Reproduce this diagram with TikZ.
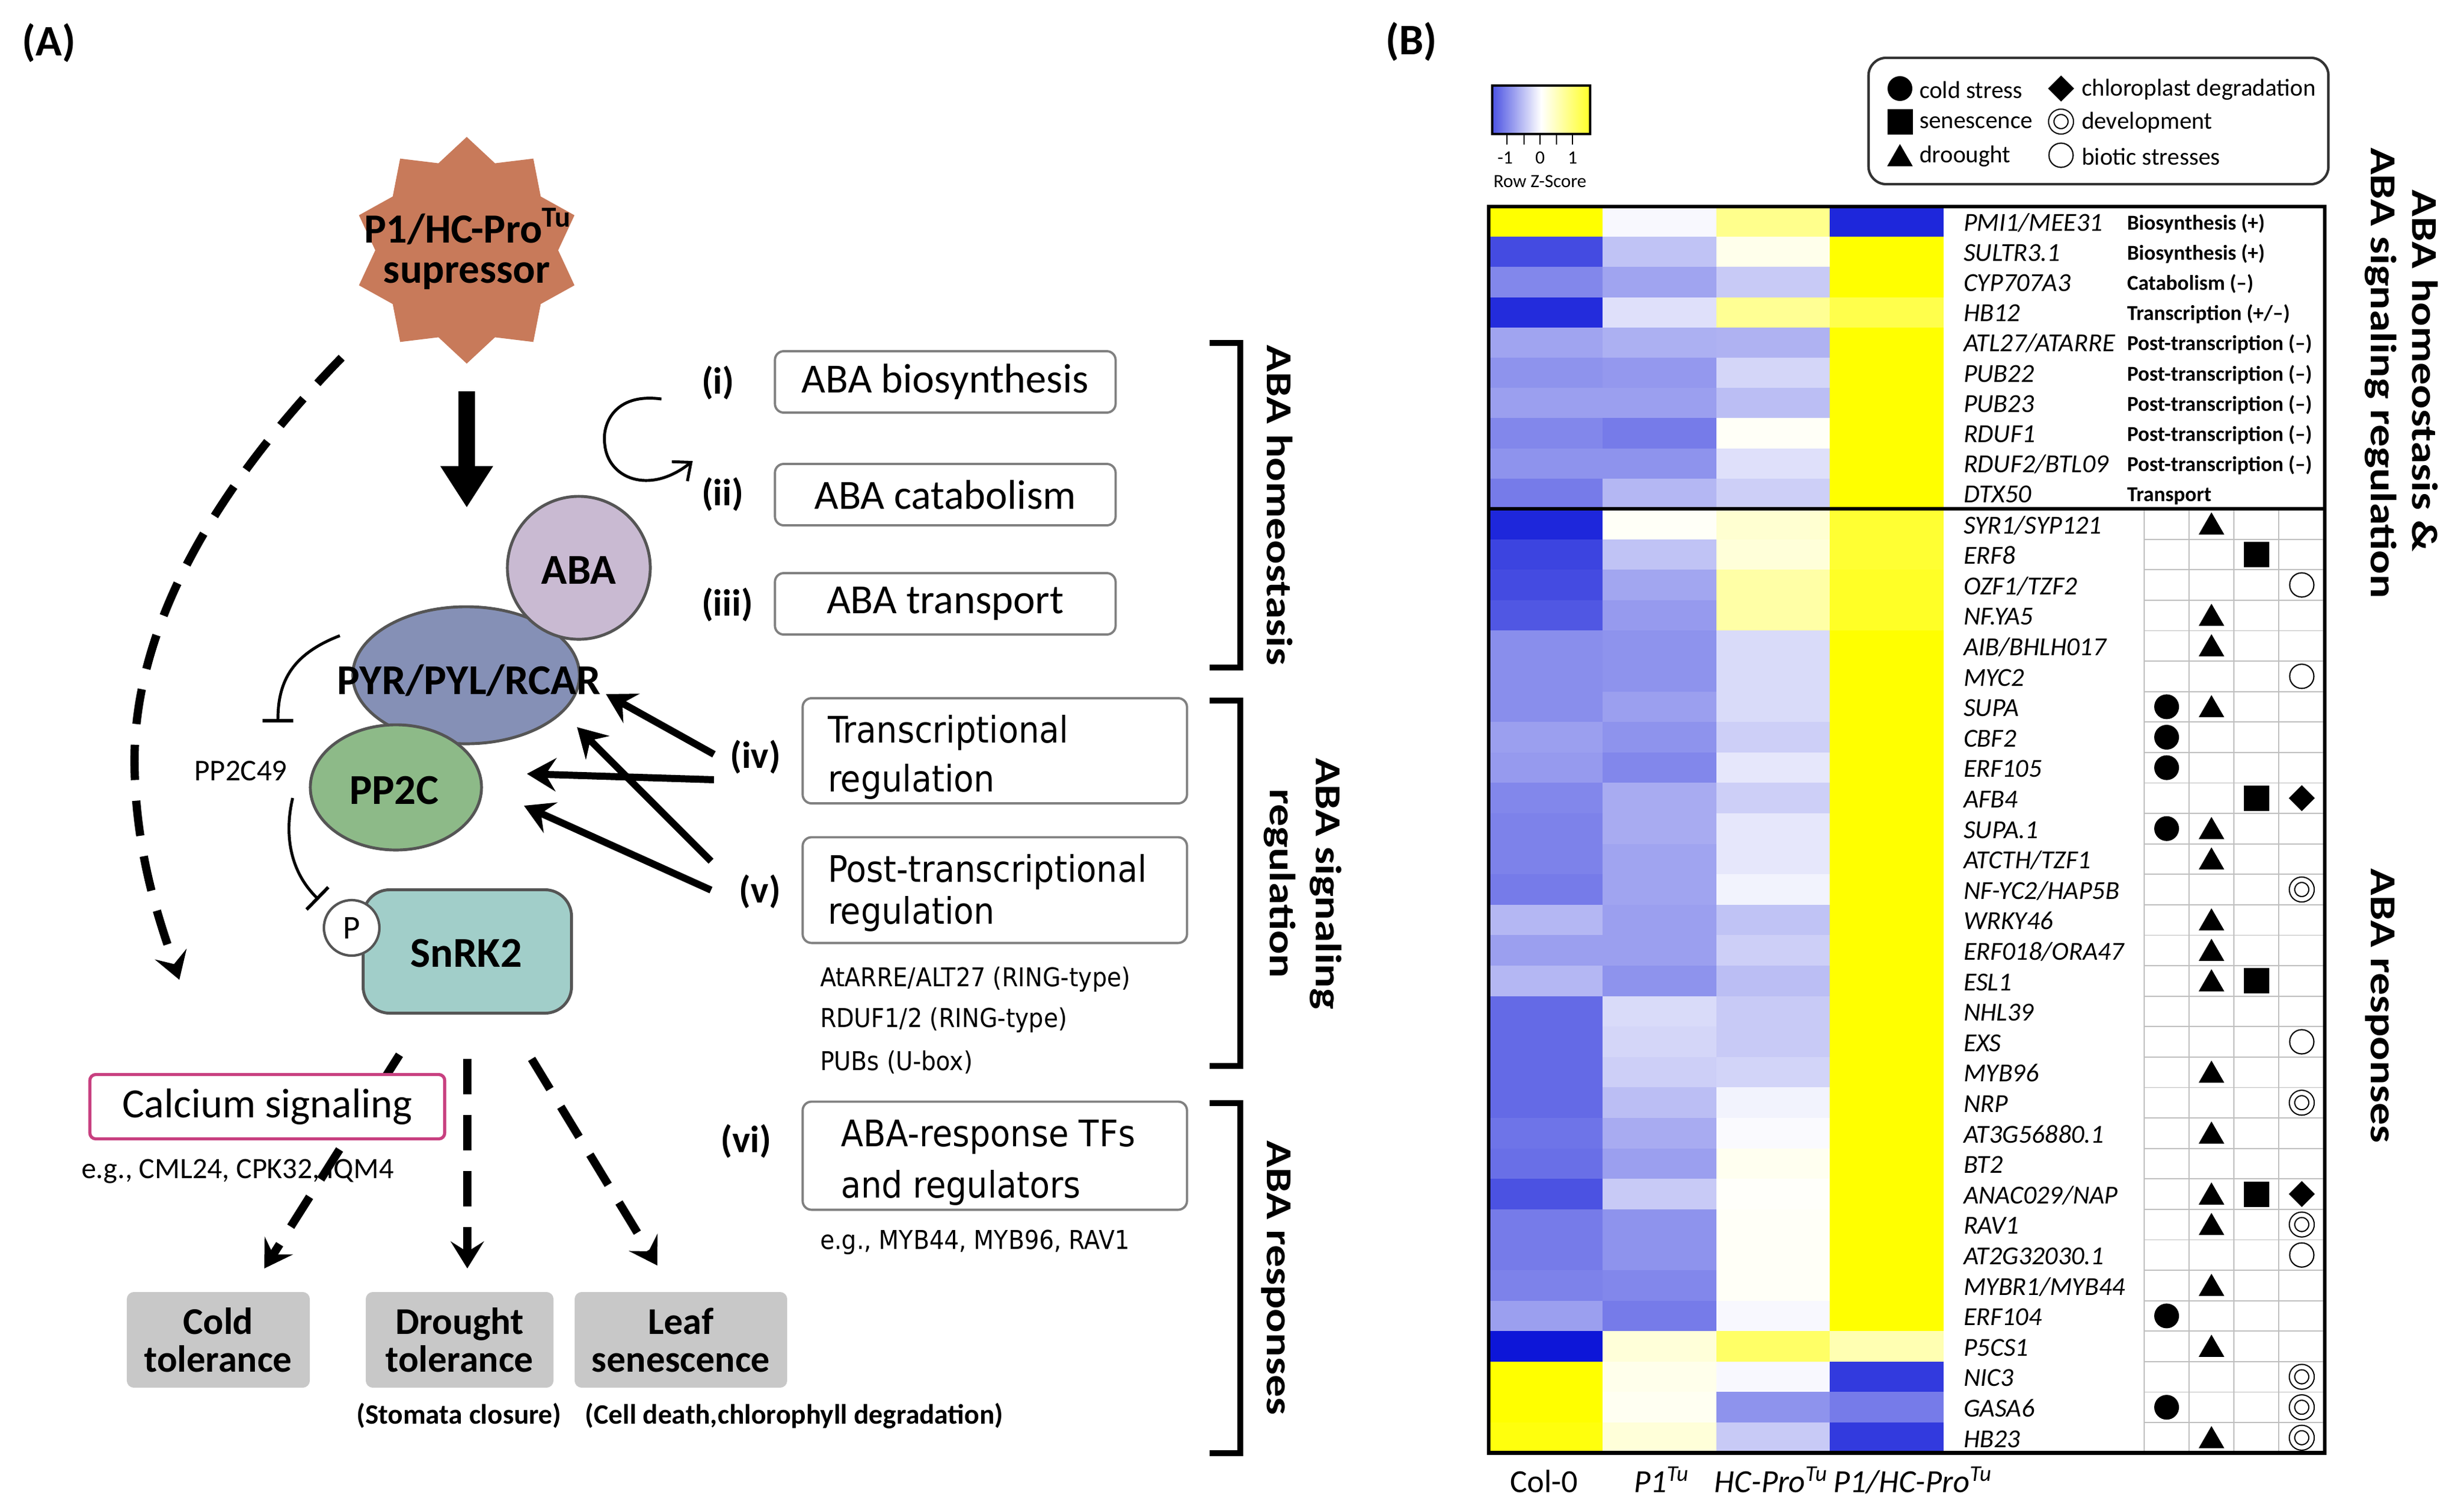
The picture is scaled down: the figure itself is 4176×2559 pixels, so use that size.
\documentclass[tikz,border=0pt]{standalone}
\usepackage{fontspec}
\usepackage{graphicx}
\setmainfont{Carlito}
\newfontfamily\dv[FakeStretch=0.9]{DejaVu Sans}
\usetikzlibrary{arrows.meta,shapes.geometric}
\definecolor{starc}{RGB}{200,122,90}
\definecolor{abac}{RGB}{201,186,210}
\definecolor{pyrc}{RGB}{133,144,182}
\definecolor{ppc}{RGB}{141,186,136}
\definecolor{snc}{RGB}{161,206,201}
\definecolor{olc}{RGB}{85,85,85}
\definecolor{boxc}{RGB}{128,128,128}
\definecolor{cacol}{RGB}{200,64,128}
\definecolor{grayb}{RGB}{200,200,200}
\definecolor{hb}{RGB}{5,15,215}
\definecolor{hy}{RGB}{255,255,0}
\newcommand\fsz[2]{\fontsize{#1pt}{#2pt}\selectfont}
\begin{document}
\begin{tikzpicture}[x=0.01cm,y=-0.01cm,
 every node/.style={inner sep=0pt,outer sep=0pt},
 plbl/.style={font=\fsz{21}{25}\bfseries},
 bigb/.style={font=\fsz{20.5}{24}\bfseries},
 startxt/.style={font=\fsz{20}{17.1}\bfseries,anchor=base},
 shp/.style={draw=olc,line width=1.4pt},
 rom/.style={font=\fsz{18.2}{22}\bfseries},
 abox/.style={draw=boxc,line width=1.1pt,rounded corners=0.15cm,minimum width=5.77cm,minimum height=1.04cm,font=\fsz{20}{24}},
 bbox/.style={draw=boxc,line width=1.1pt,rounded corners=0.15cm,minimum width=6.51cm},
 vtxt/.style={font=\dv\fsz{17.6}{21},anchor=base west},
 vsm/.style={font=\dv\fsz{12.5}{15},anchor=base west},
 gbox/.style={fill=grayb,rounded corners=0.12cm,minimum height=1.62cm,align=center,font=\fsz{18.2}{18.2}\bfseries},
 gsub/.style={font=\fsz{13.5}{16}\bfseries,anchor=base},
 rot/.style={font=\fsz{17.6}{20}\bfseries,rotate=-90,anchor=base},
 thk/.style={line width=3.4pt,-{Stealth[length=14pt,width=16pt,inset=5pt]}},
 dsh/.style={line width=4pt,dash pattern=on 17pt off 10pt,-{Stealth[length=13pt,width=16pt,inset=5pt]}},
 inh/.style={line width=1.4pt,-{Bar[width=15pt,line width=1.6pt]}},
 brk/.style={line width=2.8pt},
 gene/.style={font=\fsz{12.5}{14}\itshape,anchor=base west},
 catl/.style={font=\fsz{10.2}{12}\bfseries,anchor=base west},
 coll/.style={font=\fsz{15.5}{18},anchor=base},
 legt/.style={font=\fsz{11.7}{14},anchor=west},
 keyt/.style={font=\fsz{9}{11}},
 mkc/.style={circle,fill=black,minimum size=0.42cm},
 mkt/.style={regular polygon,regular polygon sides=3,fill=black,minimum size=0.5cm},
 mks/.style={rectangle,fill=black,minimum size=0.43cm},
 mkd/.style={diamond,fill=black,minimum width=0.44cm,minimum height=0.44cm},
 mko/.style={circle,draw=black,line width=0.6pt,minimum size=0.41cm},
 mkoo/.style={circle,draw=black,line width=0.6pt,double=white,double distance=0.07cm,minimum size=0.33cm},
 grd/.style={draw=black!25,line width=0.5pt}
]
\useasboundingbox (0,0) rectangle (4176,2559);
\fill[white] (0,0) rectangle (4176,2559);

%================ PANEL A =================
\node[plbl] (lA) at (83,73) {(A)};

% star
\fill[starc] plot[samples at={0,...,19}] ({791+(mod(\x,2)==0?192:155)*cos(90+18*\x)},{424-(mod(\x,2)==0?192:155)*sin(90+18*\x)}) -- cycle;
\coordinate (star) at (791,424);
\node[startxt] (startext1) at (793,411) {P1/HC-Pro\textsuperscript{Tu}};
\node[startxt] (startext2) at (791,479) {supressor};

% main arrow
\coordinate (ma1) at (791,663);
\coordinate (ma2) at (791,860);
\draw[line width=7.7pt,-{Triangle[length=20pt,width=24pt]}] (ma1) -- (ma2);

% long dashed curve
\coordinate (dc1) at (579,606);
\coordinate (dc2) at (228,1296);
\coordinate (dc3) at (304,1660);
\draw[dsh] (dc1) .. controls (380,810) and (225,1050) .. (dc2) .. controls (230,1450) and (272,1565) .. (dc3);

% receptor complex
\node[ellipse,shp,fill=pyrc,minimum width=3.84cm,minimum height=2.32cm] (pyr) at (790,1144) {};
\node[circle,shp,fill=abac,minimum size=2.42cm] (aba) at (981,962) {};
\node[ellipse,shp,fill=ppc,minimum width=2.9cm,minimum height=2.12cm] (pp2c) at (671,1334) {};
\node[bigb] (abat) at (981,966) {ABA};
\node[bigb] (pyrt) at (795,1153) {PYR/PYL/RCAR};
\node[bigb] (pp2ct) at (668,1339) {PP2C};
\node[rectangle,rounded corners=0.45cm,shp,fill=snc,minimum width=3.53cm,minimum height=2.09cm] (snrk) at (792,1612) {};
\node[bigb] (snrkt) at (790,1615) {SnRK2};
\node[circle,draw=olc,line width=1.2pt,fill=white,minimum size=0.94cm,font=\fsz{16}{19}] (pcirc) at (596,1572) {P};

% inhibitions
\node[font=\fsz{14.5}{17}] (pp49) at (408,1306) {PP2C49};
\coordinate (i1s) at (576,1077);
\coordinate (i1e) at (471,1224);
\draw[inh] (i1s) .. controls (490,1110) and (471,1160) .. (i1e);
\coordinate (i2s) at (496,1352);
\coordinate (i2e) at (540,1524);
\draw[inh] (i2s) .. controls (480,1420) and (495,1480) .. (i2e);

% circular arrow
\coordinate (ca1) at (1121,676);
\coordinate (cam) at (1025,753);
\coordinate (ca2) at (1174,781);
\draw[line width=1.4pt,-{Straight Barb[length=7pt,width=12pt]}] (ca1) .. controls (1040,665) and (1020,720) .. (cam) .. controls (1030,810) and (1100,840) .. (ca2);

% roman numerals
\node[rom,anchor=west] (r1) at (1189,649) {(i)};
\node[rom,anchor=west] (r2) at (1189,838) {(ii)};
\node[rom,anchor=west] (r3) at (1189,1025) {(iii)};
\node[rom,anchor=east] (r4) at (1323,1283) {(iv)};
\node[rom,anchor=east] (r5) at (1323,1511) {(v)};
\node[rom,anchor=east] (r6) at (1307,1934) {(vi)};

% arrows from (iv)/(v)
\coordinate (a1s) at (1210,1278); \coordinate (a1e) at (1027,1176);
\coordinate (a2s) at (1210,1321); \coordinate (a2e) at (893,1311);
\coordinate (a3s) at (1205,1459); \coordinate (a3e) at (978,1232);
\coordinate (a4s) at (1205,1508); \coordinate (a4e) at (888,1365);
\draw[thk] (a1s) -- (a1e);
\draw[thk] (a2s) -- (a2e);
\draw[thk] (a3s) -- (a3e);
\draw[thk] (a4s) -- (a4e);

% boxes
\node[abox] (b1) at (1602,647) {ABA biosynthesis};
\node[abox] (b2) at (1602,838) {ABA catabolism};
\node[abox] (b3) at (1602,1023) {ABA transport};
\node[bbox,minimum height=1.78cm] (b4) at (1686,1272) {};
\node[bbox,minimum height=1.79cm] (b5) at (1686,1508) {};
\node[bbox,minimum height=1.83cm] (b6) at (1686,1958) {};
\node[vtxt] (b4a) at (1403,1258) {Transcriptional};
\node[vtxt] (b4b) at (1403,1341) {regulation};
\node[vtxt] (b5a) at (1403,1494) {Post-transcriptional};
\node[vtxt] (b5b) at (1403,1565) {regulation};
\node[vtxt] (b6a) at (1425,1942) {ABA-response TFs};
\node[vtxt] (b6b) at (1425,2029) {and regulators};
\node[vsm] (s1) at (1390,1671) {AtARRE/ALT27 (RING-type)};
\node[vsm] (s2) at (1390,1740) {RDUF1/2 (RING-type)};
\node[vsm] (s3) at (1390,1813) {PUBs (U-box)};
\node[vsm] (s4) at (1390,2116) {e.g., MYB44, MYB96, RAV1};

% brackets
\coordinate (k1a) at (2050,581); \coordinate (k1b) at (2102,581); \coordinate (k1c) at (2102,1131); \coordinate (k1d) at (2050,1131);
\coordinate (k2a) at (2050,1187); \coordinate (k2b) at (2102,1187); \coordinate (k2c) at (2102,1806); \coordinate (k2d) at (2050,1806);
\coordinate (k3a) at (2050,1869); \coordinate (k3b) at (2102,1869); \coordinate (k3c) at (2102,2462); \coordinate (k3d) at (2050,2462);
\draw[brk] (k1a) -- (k1b) -- (k1c) -- (k1d);
\draw[brk] (k2a) -- (k2b) -- (k2c) -- (k2d);
\draw[brk] (k3a) -- (k3b) -- (k3c) -- (k3d);
\node[rot] (ra1) at (2147,856) {\scalebox{1.22}[1]{ABA homeostasis}};
\node[rot] (ra2) at (2230,1497) {\scalebox{1.22}[1]{ABA signaling}};
\node[rot] (ra3) at (2152,1497) {\scalebox{1.22}[1]{regulation}};
\node[rot] (ra4) at (2147,2165) {\scalebox{1.22}[1]{ABA responses}};

% bottom of panel A
\node[font=\fsz{14.2}{17},anchor=west] (eg) at (138,1985) {e.g., CML24, CPK32, IQM4};
\coordinate (d1s) at (677,1787); \coordinate (d1e) at (448,2149);
\coordinate (d2s) at (792,1794); \coordinate (d2e) at (792,2149);
\coordinate (d3s) at (901,1794); \coordinate (d3e) at (1114,2144);
\draw[dsh] (d1s) -- (d1e);
\draw[dsh] (d2s) -- (d2e);
\draw[dsh] (d3s) -- (d3e);
\node[rectangle,rounded corners=0.1cm,draw=cacol,line width=1.5pt,fill=white,minimum width=6.01cm,minimum height=1.09cm,font=\fsz{20}{24}] (cabox) at (453,1875) {Calcium signaling};
\node[gbox,minimum width=3.1cm] (cold) at (370,2270) {Cold\\tolerance};
\node[gbox,minimum width=3.18cm] (drought) at (779,2270) {Drought\\tolerance};
\node[gbox,minimum width=3.6cm] (leaf) at (1154,2270) {Leaf\\senescence};
\node[gsub] (stom) at (778,2412) {(Stomata closure)};
\node[gsub] (cell) at (1346,2412) {(Cell death,chlorophyll degradation)};

%================ PANEL B =================
\node[plbl] (lB) at (2392,71) {(B)};

% colour key
\shade[left color=hb!72!white,right color=hy!85!white,middle color=white] (2529,145) rectangle (2695,227);
\draw[line width=1.1pt] (2529,145) rectangle (2695,227);
\foreach \tx in {2554,2583,2610,2638,2665}{\draw[line width=0.8pt] (\tx,227) -- (\tx,245);}
\node[keyt] (km1) at (2551,267) {-1};
\node[keyt] (k0) at (2610,267) {0};
\node[keyt] (kp1) at (2665,267) {1};
\node[keyt] (kt) at (2610,307) {Row Z-Score};

% legend
\node[draw=black!80,line width=1.2pt,rounded corners=0.3cm,minimum width=7.79cm,minimum height=2.14cm] (leg) at (3556.5,205) {};
\node[mkc] (lg1) at (3220,150) {};
\node[mks] (lg2) at (3220,206) {};
\node[mkt] (lg3) at (3220,269) {};
\node[mkd] (lg4) at (3493,150) {};
\node[mkoo] (lg5) at (3493,206) {};
\node[mko] (lg6) at (3493,263) {};
\node[legt] (lt1) at (3253,152) {cold stress};
\node[legt] (lt2) at (3253,208) {senescence};
\node[legt] (lt3) at (3253,265) {droought};
\node[legt] (lt4) at (3528,152) {chloroplast degradation};
\node[legt] (lt5) at (3528,208) {development};
\node[legt] (lt6) at (3528,265) {biotic stresses};

% heatmap top section
\foreach \r/\ca/\cb/\cc/\cd/\g/\ct in {
 0/{hy}/{hb!3!white}/{hy!45!white}/{hb!90!white}/{PMI1/MEE31}/{Biosynthesis (+)},
 1/{hb!75!white}/{hb!25!white}/{hy!8!white}/{hy}/{SULTR3.1}/{Biosynthesis (+)},
 2/{hb!50!white}/{hb!38!white}/{hb!22!white}/{hy}/{CYP707A3}/{Catabolism (–)},
 3/{hb!88!white}/{hb!13!white}/{hy!42!white}/{hy!70!white}/{HB12}/{Transcription (+/–)},
 4/{hb!38!white}/{hb!33!white}/{hb!32!white}/{hy}/{ATL27/ATARRE}/{Post-transcription (–)},
 5/{hb!45!white}/{hb!43!white}/{hb!17!white}/{hy}/{PUB22}/{Post-transcription (–)},
 6/{hb!40!white}/{hb!40!white}/{hb!27!white}/{hy}/{PUB23}/{Post-transcription (–)},
 7/{hb!50!white}/{hb!55!white}/{hy!3!white}/{hy}/{RDUF1}/{Post-transcription (–)},
 8/{hb!45!white}/{hb!45!white}/{hb!13!white}/{hy}/{RDUF2/BTL09}/{Post-transcription (–)},
 9/{hb!55!white}/{hb!30!white}/{hb!20!white}/{hy}/{DTX50}/{Transport}}{
 \fill[fill=\ca] (2523,{350+51.2*\r}) rectangle ++(193.5,52);
 \fill[fill=\cb] (2715.75,{350+51.2*\r}) rectangle ++(193.5,52);
 \fill[fill=\cc] (2908.5,{350+51.2*\r}) rectangle ++(193.5,52);
 \fill[fill=\cd] (3101.25,{350+51.2*\r}) rectangle ++(192.75,52);
 \node[gene] (gT\r) at (3328,{350+51.2*\r+41}) {\g};
 \node[catl] (cT\r) at (3605,{350+51.2*\r+39}) {\ct};
}

% heatmap bottom section
\foreach \r/\ca/\cb/\cc/\cd/\g in {
 0/{hb!90!white}/{hy!3!white}/{hy!18!white}/{hy!80!white}/{SYR1/SYP121},
 1/{hb!78!white}/{hb!25!white}/{hy!15!white}/{hy!80!white}/{ERF8},
 2/{hb!75!white}/{hb!37!white}/{hy!35!white}/{hy!85!white}/{OZF1/TZF2},
 3/{hb!70!white}/{hb!42!white}/{hy!35!white}/{hy!85!white}/{NF.YA5},
 4/{hb!47!white}/{hb!45!white}/{hb!15!white}/{hy}/{AIB/BHLH017},
 5/{hb!47!white}/{hb!45!white}/{hb!15!white}/{hy}/{MYC2},
 6/{hb!47!white}/{hb!40!white}/{hb!15!white}/{hy}/{SUPA},
 7/{hb!40!white}/{hb!45!white}/{hb!20!white}/{hy}/{CBF2},
 8/{hb!42!white}/{hb!50!white}/{hb!10!white}/{hy}/{ERF105},
 9/{hb!50!white}/{hb!35!white}/{hb!20!white}/{hy}/{AFB4},
 10/{hb!52!white}/{hb!35!white}/{hb!10!white}/{hy}/{SUPA.1},
 11/{hb!52!white}/{hb!38!white}/{hb!10!white}/{hy}/{ATCTH/TZF1},
 12/{hb!55!white}/{hb!38!white}/{hb!5!white}/{hy}/{NF-YC2/HAP5B},
 13/{hb!30!white}/{hb!40!white}/{hb!25!white}/{hy}/{WRKY46},
 14/{hb!40!white}/{hb!40!white}/{hb!20!white}/{hy}/{ERF018/ORA47},
 15/{hb!30!white}/{hb!45!white}/{hb!27!white}/{hy}/{ESL1},
 16/{hb!62!white}/{hb!15!white}/{hb!22!white}/{hy}/{NHL39},
 17/{hb!62!white}/{hb!17!white}/{hb!22!white}/{hy}/{EXS},
 18/{hb!62!white}/{hb!20!white}/{hb!18!white}/{hy}/{MYB96},
 19/{hb!62!white}/{hb!27!white}/{hb!5!white}/{hy}/{NRP},
 20/{hb!58!white}/{hb!35!white}/{hb!2!white}/{hy}/{AT3G56880.1},
 21/{hb!60!white}/{hb!40!white}/{hy!6!white}/{hy}/{BT2},
 22/{hb!72!white}/{hb!22!white}/{hy!2!white}/{hy}/{ANAC029/NAP},
 23/{hb!55!white}/{hb!45!white}/{hy!3!white}/{hy}/{RAV1},
 24/{hb!55!white}/{hb!45!white}/{hy!3!white}/{hy}/{AT2G32030.1},
 25/{hb!52!white}/{hb!50!white}/{hy!3!white}/{hy}/{MYBR1/MYB44},
 26/{hb!40!white}/{hb!55!white}/{hb!3!white}/{hy}/{ERF104},
 27/{hb!97!white}/{hy!15!white}/{hy!60!white}/{hy!30!white}/{P5CS1},
 28/{hy}/{hy!8!white}/{hb!3!white}/{hb!82!white}/{NIC3},
 29/{hy}/{hy!5!white}/{hb!45!white}/{hb!55!white}/{GASA6},
 30/{hy!95!white}/{hy!15!white}/{hb!22!white}/{hb!82!white}/{HB23}}{
 \fill[fill=\ca] (2523,{862+51.6*\r}) rectangle ++(193.5,52.4);
 \fill[fill=\cb] (2715.75,{862+51.6*\r}) rectangle ++(193.5,52.4);
 \fill[fill=\cc] (2908.5,{862+51.6*\r}) rectangle ++(193.5,52.4);
 \fill[fill=\cd] (3101.25,{862+51.6*\r}) rectangle ++(192.75,52.4);
 \node[gene] (gB\r) at (3328,{862+51.6*\r+42}) {\g};
}

% marker grid
\foreach \k in {1,...,30}{\draw[grd] (3634,{862+51.6*\k}) -- (3940,{862+51.6*\k});}
\foreach \vx in {3634,3710,3786,3862}{\draw[grd] (\vx,862) -- (\vx,2461.6);}

% markers
\foreach \r in {6,7,8,10,26,29}{\node[mkc] (mc\r) at (3672,{862+51.6*\r+25.8}) {};}
\foreach \r in {0,3,4,6,10,11,13,14,15,18,20,22,23,25,27,30}{\node[mkt] (mt\r) at (3748,{862+51.6*\r+31}) {};}
\foreach \r in {1,9,15,22}{\node[mks] (ms\r) at (3824,{862+51.6*\r+25.8}) {};}
\foreach \r in {9,22}{\node[mkd] (md\r) at (3901,{862+51.6*\r+25.8}) {};}
\foreach \r in {2,5,17,24}{\node[mko] (mo\r) at (3901,{862+51.6*\r+25.8}) {};}
\foreach \r in {12,19,23,28,29,30}{\node[mkoo] (mw\r) at (3901,{862+51.6*\r+25.8}) {};}

% frame
\draw[line width=1.8pt] (2523,350) rectangle (3940,2461.6);
\draw[line width=1.8pt] (2523,862) -- (3940,862);

% column labels
\node[coll] (cl1) at (2617,2528) {Col-0};
\node[coll] (cl2) at (2816,2528) {\itshape P1\textsuperscript{Tu}};
\node[coll] (cl3) at (3002,2528) {\itshape HC-Pro\textsuperscript{Tu}};
\node[coll] (cl4) at (3242,2528) {\itshape P1/HC-Pro\textsuperscript{Tu}};

% right labels
\node[rot] (rb1) at (4088,628) {\scalebox{1.22}[1]{ABA homeostasis \&}};
\node[rot] (rb2) at (4018,632) {\scalebox{1.22}[1]{ABA signaling regulation}};
\node[rot] (rb3) at (4018,1704) {\scalebox{1.22}[1]{ABA responses}};
\end{tikzpicture}
\end{document}
